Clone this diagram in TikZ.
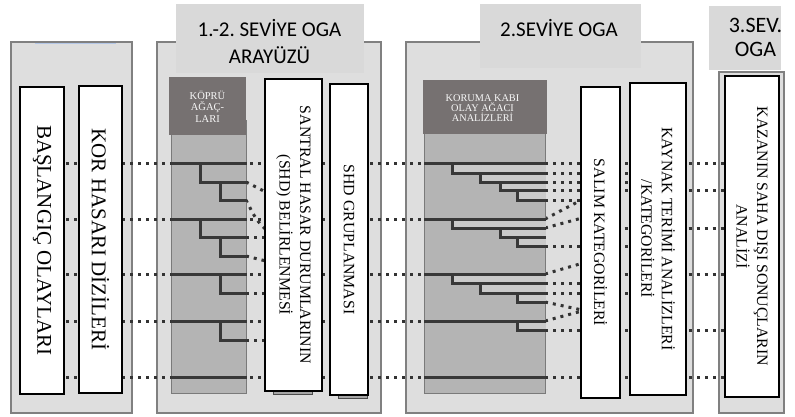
\documentclass[tikz,border=0pt]{standalone}
\usepackage{fontspec}
\setmainfont{Liberation Serif}
\newfontfamily\titlefont{Carlito}
\definecolor{panelfill}{HTML}{DEDEDE}
\definecolor{panelline}{HTML}{808080}
\definecolor{titlefill}{HTML}{D9D9D9}
\definecolor{headfill}{HTML}{767171}
\definecolor{colfill}{HTML}{B4B4B4}
\definecolor{colline}{HTML}{7A7A7A}
\definecolor{bandfill}{HTML}{CACACA}
\definecolor{treecol}{HTML}{383838}
\definecolor{dotcol}{HTML}{333333}
\definecolor{accentblue}{HTML}{B4C7E7}
\definecolor{shadowfill}{HTML}{A6A6A6}
\pgfdeclarelayer{back}
\pgfdeclarelayer{dots}
\pgfsetlayers{back,dots,main}
\begin{document}
\begin{tikzpicture}[x=1pt,y=-1pt,
  panel/.style={draw=panelline, line width=1.2pt, fill=panelfill, inner sep=0pt, outer sep=0pt},
  titlebox/.style={fill=titlefill, inner sep=0pt, outer sep=0pt},
  titletext/.style={font=\titlefont\fontsize{21}{27}\selectfont, align=center, inner sep=0pt},
  headbox/.style={fill=headfill, inner sep=0pt, outer sep=0pt},
  headtext/.style={text=white!94!gray, align=center, inner sep=0pt},
  column/.style={draw=colline, line width=0.8pt, fill=colfill, inner sep=0pt, outer sep=0pt},
  wbox/.style={draw=black, line width=1.8pt, fill=white, inner sep=0pt, outer sep=0pt, rotate=-90, align=center},
  bigtext/.style={font=\fontsize{21}{25}\selectfont},
  midtext/.style={font=\fontsize{15.8}{20.5}\selectfont},
  shadowbox/.style={draw=black!70, line width=0.6pt, fill=shadowfill, inner sep=0pt, outer sep=0pt},
  dotline/.style={draw=dotcol, line width=3pt, dash pattern=on 3pt off 5pt},
  treeline/.style={draw=treecol, line width=3pt, line join=miter},
  band/.style={fill=bandfill}
]
\useasboundingbox (0,0) rectangle (795,417);

% row levels of the event sequences
\foreach \r in {163,173,182,190,200,206,213,219,228,237,246,256,258,268,274,283,293,302,306,314,321,330,340,377}
  \coordinate (r\r) at (0,\r);

% ---------- panels ----------
\begin{pgfonlayer}{back}
  \node[panel, minimum width=121pt, minimum height=371pt] (p1) at (71.5,227.5) {};
  \node[panel, minimum width=224pt, minimum height=371pt] (p2) at (269,227.5) {};
  \node[panel, minimum width=287pt, minimum height=371pt] (p3) at (549.5,227.5) {};
  \node[panel, minimum width=65pt, minimum height=341pt] (p4) at (751.5,242.5) {};
  \draw[accentblue, line width=1.5pt] (p1.north west) ++(24,1.6) -- ++(81,0);
\end{pgfonlayer}

% ---------- level titles ----------
\node[titlebox, minimum width=188pt, minimum height=69pt] (t2) at (270,38.5) {};
\node[titletext] (t2txt) at (269.5,42) {1.-2.\ SEVİYE OGA\\[0pt]ARAYÜZÜ};
\node[titlebox, minimum width=161pt, minimum height=64pt] (t3) at (560.5,36) {};
\node[titletext] (t3txt) at (559,28.5) {2.SEVİYE OGA};
\node[titlebox, minimum width=72pt, minimum height=64pt] (t4) at (745,38) {};
\node[titletext, font=\titlefont\fontsize{22}{24}\selectfont] (t4txt) at (755.5,37) {3.SEV.\\OGA};

% ---------- shadows under two boxes ----------
\node[shadowbox, minimum width=39pt, minimum height=4pt] (s3) at (292.5,392.5) {};
\node[shadowbox, minimum width=29pt, minimum height=3pt] (s4) at (352.5,396.5) {};

% ---------- white boxes ----------
\node[wbox, bigtext, minimum width=307pt, minimum height=44pt] (b1) at (42,240.5) {BAŞLANGIÇ OLAYLARI};
\node[wbox, bigtext, minimum width=307pt, minimum height=43pt] (b2) at (100.5,239.5) {KOR HASARI DİZİLERİ};
\node[wbox, midtext, minimum width=312pt, minimum height=57pt] (b3) at (293.5,235) {SANTRAL HASAR DURUMLARININ\\(SHD) BELİRLENMESİ};
\node[wbox, midtext, minimum width=311pt, minimum height=38pt] (b4) at (349,239.5) {SHD GRUPLANMASI};
\node[wbox, midtext, minimum width=311pt, minimum height=39pt] (b5) at (600.5,242.5) {SALIM KATEGORİLERİ};
\node[wbox, midtext, minimum width=312pt, minimum height=56pt] (b6) at (658,239) {KAYNAK TERİMİ ANALİZLERİ\\/KATEGORİLERİ};
\node[wbox, midtext, minimum width=321pt, minimum height=54pt] (b7) at (752,236.5) {KAZANIN SAHA DIŞI SONUÇLARIN\\ANALİZİ};

% ---------- tree columns and their headers ----------
\node[column, minimum width=75pt, minimum height=273pt] (c2) at (208.5,256.5) {};
\node[headbox, minimum width=77pt, minimum height=58pt] (h2) at (207.5,106) {};
\node[headtext, font=\fontsize{10.5}{11.5}\selectfont] (h2txt) at (207.5,106.5) {KÖPRÜ\\AĞAÇ-\\LARI};
\node[column, minimum width=121pt, minimum height=300pt] (c3) at (484.5,243) {};
\node[headbox, minimum width=124pt, minimum height=54pt] (h3) at (485,107) {};
\node[headtext, font=\fontsize{10.3}{10}\selectfont] (h3txt) at (482.5,108.5) {KORUMA KABI\\OLAY AĞACI\\ANALİZLERİ};

% ---------- dotted sequence links ----------
\begin{pgfonlayer}{dots}
  % through links from the initiating events up to the containment trees
  \foreach \r in {163,219,274,321,377}
    \draw[dotline] (b1.center |- r\r) -- (c3.west |- r\r);
  % bridge tree ends to plant damage states
  \foreach \r in {237,293,340}
    \draw[dotline] (c2.east |- r\r) -- (b3.west |- r\r);
  \draw[dotline] (c2.east |- r182) -- (b3.west |- r206);
  \draw[dotline] (c2.east |- r200) .. controls (254,215) and (259,232) .. (b3.west |- r246);
  \draw[dotline] (c2.east |- r256) -- (b3.west |- r268);
  % containment tree ends to release categories and source terms
  \foreach \r in {163,190,330,377}
    \draw[dotline] (c3.east |- r\r) -- (b7.center |- r\r);
  \foreach \r in {228,274}
    \draw[dotline] (b5.center |- r\r) -- (b7.center |- r\r);
  \foreach \r in {173,182,246,293}
    \draw[dotline] (c3.east |- r\r) -- (b6.west |- r\r);
  \foreach \r in {200,283}
    \draw[dotline] (c3.east |- r\r) -- (b5.west |- r\r);
  \draw[dotline] (c3.east |- r219) -- (b5.west |- r190);
  \draw[dotline] (c3.east |- r228) -- (b5.west |- r213);
  \draw[dotline] (c3.east |- r274) -- (b5.west |- r258);
  \draw[dotline] (c3.east |- r302) -- (b5.west |- r314);
  \draw[dotline] (c3.east |- r321) -- (b5.west |- r306);
\end{pgfonlayer}

% ---------- bridge event trees ----------
\foreach \r in {163,219,274,321,377}
  \draw[treeline] (171,\r) -- (247,\r);
\draw[treeline] (200,163) -- (200,182) -- (247,182);
\draw[treeline] (220,182) -- (220,200) -- (247,200);
\draw[treeline] (200,219) -- (200,237) -- (247,237);
\draw[treeline] (220,237) -- (220,256) -- (247,256);
\draw[treeline] (220,274) -- (220,293) -- (247,293);
\draw[treeline] (220,321) -- (220,340) -- (247,340);

% ---------- containment event trees ----------
\foreach \x/\ya/\yb in {452/163/173,480/173/182,500/182/190,517/190/200,
                        452/219/228,500/228/237,517/237/246,
                        452/274/283,480/283/293,517/293/302,
                        517/321/330}
  \fill[band] (\x,\ya) rectangle (546,\yb);
\foreach \r in {163,219,274,321,377}
  \draw[treeline] (424,\r) -- (546,\r);
\foreach \x/\ya/\yb in {452/163/173,480/173/182,500/182/190,517/190/200,
                        452/219/228,500/228/237,517/237/246,
                        452/274/283,480/283/293,517/293/302,
                        517/321/330}
  \draw[treeline] (\x,\ya) -- (\x,\yb) -- (546,\yb);

\end{tikzpicture}
\end{document}
